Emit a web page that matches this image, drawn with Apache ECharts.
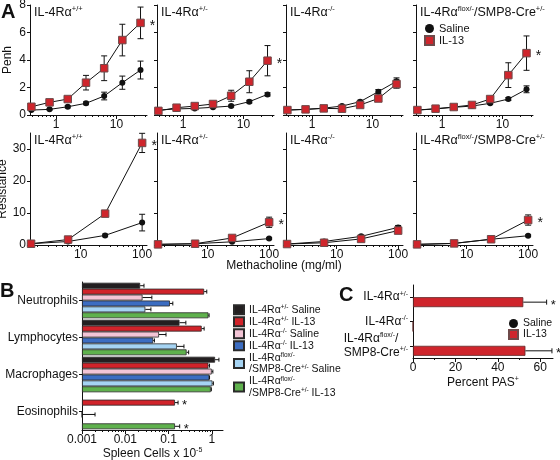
<!DOCTYPE html>
<html><head><meta charset="utf-8">
<script src="https://cdn.jsdelivr.net/npm/echarts@6/dist/echarts.min.js"></script>
<style>html,body{margin:0;padding:0;background:#fff}#c{width:560px;height:460px}</style>
</head><body><div id="c"></div>
<script>
// ---------------- DATA ----------------
const penhDoses = [0.39, 0.78, 1.56, 3.13, 6.25, 12.5, 25];
const resDoses = [1.56, 6.25, 25, 100];
const penhTickLabels = [1, 10];
const resTickLabels = [10, 100];

// Penh, one row per genotype panel (+/+, +/-, -/-, flox/SMP8-Cre)
const penhSaline = [
  [0.36, 0.41, 0.60, 0.85, 1.38, 2.35, 3.27],
  [0.36, 0.44, 0.48, 0.56, 0.65, 0.97, 1.50],
  [0.36, 0.41, 0.50, 0.65, 0.97, 1.70, 2.45],
  [0.36, 0.44, 0.56, 0.65, 0.85, 1.16, 1.87]
];
const penhSalineErr = [
  [0.05, 0.05, 0.08, 0.10, 0.28, 0.48, 0.65],
  [0.05, 0.05, 0.05, 0.05, 0.07, 0.10, 0.12],
  [0.05, 0.05, 0.05, 0.06, 0.10, 0.15, 0.25],
  [0.05, 0.05, 0.05, 0.05, 0.07, 0.10, 0.25]
];
const penhIL13 = [
  [0.60, 0.92, 1.16, 2.35, 3.40, 5.45, 6.70],
  [0.30, 0.53, 0.65, 0.80, 1.40, 2.42, 3.95],
  [0.36, 0.41, 0.48, 0.46, 0.73, 1.20, 2.25],
  [0.36, 0.46, 0.58, 0.73, 1.16, 2.90, 4.50]
];
const penhIL13Err = [
  [0.15, 0.12, 0.10, 0.53, 0.90, 1.15, 1.15],
  [0.05, 0.08, 0.10, 0.15, 0.40, 0.80, 1.10],
  [0.05, 0.05, 0.05, 0.06, 0.10, 0.15, 0.30],
  [0.05, 0.05, 0.05, 0.08, 0.12, 0.90, 1.25]
];
const penhSig = [true, true, false, true];

const resSaline = [
  [0.4, 1.1, 3.0, 7.0],
  [0.2, 0.4, 1.0, 2.0],
  [0.3, 1.1, 2.7, 5.5],
  [0.2, 0.5, 1.8, 2.9]
];
const resSalineErr = [
  [0.1, 0.2, 0.4, 2.6],
  [0.1, 0.1, 0.2, 0.3],
  [0.1, 0.2, 0.4, 0.6],
  [0.1, 0.1, 0.2, 0.3]
];
const resIL13 = [
  [0.4, 1.7, 9.8, 31.9],
  [0.2, 0.4, 2.2, 7.1],
  [0.3, 0.7, 1.9, 4.5],
  [0.2, 0.5, 1.8, 7.8]
];
const resIL13Err = [
  [0.2, 0.3, 0.6, 3.0],
  [0.1, 0.1, 0.5, 1.6],
  [0.1, 0.2, 0.3, 0.5],
  [0.1, 0.1, 0.3, 1.6]
];
const resSig = [true, true, false, true];

// Panel B
const cellTypes = ['Neutrophils', 'Lymphocytes', 'Macrophages', 'Eosinophils'];
const groupNames = ['+/- Saline', '+/- IL-13', '-/- Saline', '-/- IL-13', 'flox Saline', 'flox IL-13'];
const cellMeans = [
  [0.022, 0.178, 1.18, null],
  [0.66, 0.58, 0.83, 0.14],
  [0.025, 0.060, 0.99, null],
  [0.107, 0.044, 0.87, 0.001],
  [0.029, 0.155, 1.03, null],
  [0.83, 0.26, 0.94, 0.14]
];
const cellUpper = [
  [0.027, 0.25, 1.45, null],
  [0.76, 0.66, 0.88, 0.165],
  [0.041, 0.087, 1.05, null],
  [0.125, 0.047, 0.88, 0.002],
  [0.039, 0.226, 1.08, null],
  [0.86, 0.29, 0.97, 0.18]
];
const cellSig = [
  [false, false, false, false],
  [false, false, false, true],
  [false, false, false, false],
  [false, false, false, false],
  [false, false, false, false],
  [false, false, false, true]
];
const cellTicks = [0.001, 0.01, 0.1, 1];

// Panel C
const pasGenotypes = ['+/-', '-/-', 'flox'];
const pasSaline = [0, 0, 0];
const pasIL13 = [52, 0, 53];
const pasIL13Err = [11, 0, 12.5];
const pasSig = [true, false, true];
const pasTicks = [0, 20, 40, 60];

// ---------------- STYLE ----------------
const FONT = '"Liberation Sans", Arial, Helvetica, sans-serif';
const INK = '#111';
const RED = '#cf252c';
const groupColors = ['#231f20', '#d1232a', '#f3c5d6', '#3c6dc1', '#a6d4f3', '#5fb14d'];
const rich = (fs, sfs) => ({
  n: {fontSize: fs, lineHeight: fs + 2, fontFamily: FONT, color: INK, align: 'left'},
  s: {fontSize: sfs, lineHeight: sfs + 1, fontFamily: FONT, color: INK, verticalAlign: 'top', align: 'left'}
});
const titleText = ['{n|IL-4Rα}{s|+/+}', '{n|IL-4Rα}{s|+/-}', '{n|IL-4Rα}{s|-/-}', '{n|IL-4Rα}{s|flox/-}{n|/SMP8-Cre}{s|+/-}'];
const groupLegend = {
  '+/- Saline': '{n|IL-4Rα}{s|+/-}{n| Saline}',
  '+/- IL-13': '{n|IL-4Rα}{s|+/-}{n| IL-13}',
  '-/- Saline': '{n|IL-4Rα}{s|-/-}{n| Saline}',
  '-/- IL-13': '{n|IL-4Rα}{s|-/-}{n| IL-13}',
  'flox Saline': '{n|IL-4Rα}{s|flox/-}\n{n|/SMP8-Cre}{s|+/-}{n| Saline}',
  'flox IL-13': '{n|IL-4Rα}{s|flox/-}\n{n|/SMP8-Cre}{s|+/-}{n| IL-13}'
};
const pasLabel = {
  '+/-': '{n|IL-4Rα}{s|+/-}',
  '-/-': '{n|IL-4Rα}{s|-/-}',
  'flox': '{n|IL-4Rα}{s|flox/-}{n|/}\n{n|SMP8-Cre}{s|+/-}'
};

const panelLeft = [30, 157, 286, 416];
const panelWidth = 117;

const grids = [], xAxes = [], yAxes = [], series = [], titles = [];
const line = (x1, y1, x2, y2) => ({type: 'line', shape: {x1, y1, x2, y2}, style: {stroke: INK, lineWidth: 1}});

function addLogX(gridIndex, min, max, major, minor, extra) {
  xAxes.push(Object.assign({
    type: 'log', logBase: 10, gridIndex, min, max, position: 'bottom',
    axisLine: {show: true, lineStyle: {color: INK, width: 1}},
    axisTick: {show: true, customValues: major, length: 4, lineStyle: {color: INK, width: 1}},
    axisLabel: {show: true, customValues: major, fontSize: 12, color: INK, fontFamily: FONT, margin: 4, formatter: v => String(v)},
    splitLine: {show: false}, minorTick: {show: false}
  }, extra || {}));
  const idx = xAxes.length - 1;
  xAxes.push({
    type: 'log', logBase: 10, gridIndex, min, max, position: 'bottom',
    axisLine: {show: false},
    axisTick: {show: true, customValues: minor, length: 2, lineStyle: {color: INK, width: 1}},
    axisLabel: {show: false}, splitLine: {show: false}
  });
  return idx;
}

function errSeries(xi, yi, xs, ys, es, z) {
  return {
    type: 'custom', xAxisIndex: xi, yAxisIndex: yi, z, silent: true,
    data: xs.map((x, k) => [x, Math.max(0, ys[k] - es[k]), ys[k] + es[k]]),
    encode: {x: 0, y: [1, 2]},
    renderItem: (params, api) => {
      const x = api.value(0);
      const lo = api.coord([x, api.value(1)]);
      const hi = api.coord([x, api.value(2)]);
      const w = 3;
      return {type: 'group', children: [
        line(lo[0], lo[1], hi[0], hi[1]),
        line(lo[0] - w, lo[1], lo[0] + w, lo[1]),
        line(hi[0] - w, hi[1], hi[0] + w, hi[1])
      ]};
    }
  };
}

function addPanelA(row, i) {
  const gi = row * 4 + i;
  const top = row === 0 ? 5 : 133;
  const height = row === 0 ? 110 : 112;
  grids.push({left: panelLeft[i], top, width: panelWidth, height, outerBoundsMode: 'none'});
  const doses = row === 0 ? penhDoses : resDoses;
  const xi = row === 0
    ? addLogX(gi, 0.37, 32, penhTickLabels, [0.4, 0.5, 0.6, 0.7, 0.8, 0.9, 2, 3, 4, 5, 6, 7, 8, 9, 20, 30])
    : addLogX(gi, 1.5, 120, resTickLabels, [2, 3, 4, 5, 6, 7, 8, 9, 20, 30, 40, 50, 60, 70, 80, 90]);
  const yAxis = {
    type: 'value', gridIndex: gi, min: 0, position: 'left',
    axisLine: {show: true, lineStyle: {color: INK, width: 1}},
    axisTick: {show: true, length: 3, lineStyle: {color: INK}},
    axisLabel: {show: i === 0, fontSize: 12, color: INK, fontFamily: FONT, margin: 4},
    splitLine: {show: false},
    name: i === 0 ? (row === 0 ? 'Penh' : 'Resistance') : '',
    nameLocation: 'middle', nameRotate: 90, nameGap: 16,
    nameTextStyle: {fontSize: 12, color: INK, fontFamily: FONT}
  };
  if (row === 0) { yAxis.max = 8; yAxis.interval = 2; }
  else { yAxis.max = 35; yAxis.axisLabel.customValues = [0, 10, 20, 30]; yAxis.axisTick.customValues = [0, 10, 20, 30]; }
  yAxes.push(yAxis);
  const yi = yAxes.length - 1;
  const sal = row === 0 ? penhSaline[i] : resSaline[i];
  const salE = row === 0 ? penhSalineErr[i] : resSalineErr[i];
  const il = row === 0 ? penhIL13[i] : resIL13[i];
  const ilE = row === 0 ? penhIL13Err[i] : resIL13Err[i];
  const sig = row === 0 ? penhSig[i] : resSig[i];
  const pairs = arr => doses.map((d, k) => [d, arr[k]]);
  series.push({type: 'line', name: '_l', xAxisIndex: xi, yAxisIndex: yi, data: pairs(sal), showSymbol: false, symbol: 'none', lineStyle: {color: INK, width: 1}, z: 2, silent: true});
  series.push({type: 'line', name: '_l', xAxisIndex: xi, yAxisIndex: yi, data: pairs(il), showSymbol: false, symbol: 'none', lineStyle: {color: INK, width: 1}, z: 2, silent: true});
  series.push(errSeries(xi, yi, doses, sal, salE, 3));
  series.push(errSeries(xi, yi, doses, il, ilE, 3));
  series.push({type: 'scatter', name: 'Saline', xAxisIndex: xi, yAxisIndex: yi, data: pairs(sal), symbol: 'circle', symbolSize: 6, itemStyle: {color: INK, opacity: 1}, z: 4});
  const ilData = pairs(il).map((p, k) => (sig && k === doses.length - 1)
    ? {value: p, label: {show: true, formatter: '*', position: 'right', distance: 5, offset: [0, 3], fontSize: 14, color: INK, fontFamily: FONT}}
    : p);
  series.push({type: 'scatter', name: 'IL-13', xAxisIndex: xi, yAxisIndex: yi, data: ilData, symbol: 'rect', symbolSize: 7.5,
    itemStyle: {color: RED, borderColor: '#6e4a4a', borderWidth: 1, opacity: 1}, z: 5});
  titles.push({text: titleText[i], left: panelLeft[i] + 4, top: row === 0 ? 5 : 133, padding: 0,
    textStyle: {fontSize: 12.5, fontWeight: 'normal', color: INK, fontFamily: FONT, rich: rich(12.5, 7.5)}});
}
for (let r = 0; r < 2; r++) for (let i = 0; i < 4; i++) addPanelA(r, i);

// ---------- Panel B ----------
const gB = grids.length;
grids.push({left: 82, top: 282, width: 141, height: 148, outerBoundsMode: 'none'});
const xB = addLogX(gB, 0.001, 1.8, cellTicks,
  [0.002, 0.003, 0.004, 0.005, 0.006, 0.007, 0.008, 0.009, 0.02, 0.03, 0.04, 0.05, 0.06, 0.07, 0.08, 0.09, 0.2, 0.3, 0.4, 0.5, 0.6, 0.7, 0.8, 0.9],
  {startValue: 0.001, name: '{n|Spleen Cells x 10}{s|-5}', nameLocation: 'middle', nameGap: 15,
   nameTextStyle: {fontSize: 12, color: INK, fontFamily: FONT, rich: rich(12, 7)}});
yAxes.push({type: 'category', gridIndex: gB, data: cellTypes, inverse: true, position: 'left',
  axisLine: {show: true, lineStyle: {color: INK}},
  axisTick: {show: true, alignWithLabel: true, length: 3, lineStyle: {color: INK}},
  axisLabel: {fontSize: 12, color: INK, fontFamily: FONT, margin: 4}, splitLine: {show: false}});
const yB = yAxes.length - 1;
const BGAP = 0.04;
groupNames.forEach((g, gi) => {
  series.push({type: 'bar', name: g, xAxisIndex: xB, yAxisIndex: yB,
    data: cellMeans[gi].map(v => v == null ? '-' : v),
    barCategoryGap: (BGAP * 100) + '%', barGap: 0,
    itemStyle: {color: groupColors[gi], borderColor: '#2a2a2a', borderWidth: 0.8}, z: 2});
});
const bErr = [];
groupNames.forEach((g, gi) => cellTypes.forEach((c, ci) => {
  if (cellMeans[gi][ci] != null) bErr.push([cellMeans[gi][ci], cellUpper[gi][ci], ci, gi, cellSig[gi][ci] ? 1 : 0]);
}));
series.push({type: 'custom', xAxisIndex: xB, yAxisIndex: yB, z: 3, silent: true, data: bErr,
  encode: {x: [0, 1], y: 2},
  renderItem: (params, api) => {
    const v = api.value(0), h = api.value(1), ci = api.value(2), gi = api.value(3), sg = api.value(4);
    const band = api.size([0, 1], [1, ci])[1];
    const inner = band * (1 - BGAP);
    const bw = inner / groupNames.length;
    const y = api.coord([1, ci])[1] - inner / 2 + bw * (gi + 0.5);
    const x0 = api.coord([v, ci])[0], x1 = api.coord([h, ci])[0];
    const ch = [line(x0, y, x1, y), line(x1, y - 2, x1, y + 2)];
    if (sg) ch.push({type: 'text', style: {text: '*', x: x1 + 4, y: y + 3, fontSize: 13, fill: INK, fontFamily: FONT, verticalAlign: 'middle'}});
    return {type: 'group', children: ch};
  }});

// ---------- Panel C ----------
const gC = grids.length;
grids.push({left: 413, top: 285, width: 140, height: 73, outerBoundsMode: 'none'});
xAxes.push({type: 'value', gridIndex: gC, min: 0, max: 66, position: 'bottom',
  axisLine: {show: true, lineStyle: {color: INK}},
  axisTick: {show: true, customValues: pasTicks, length: 4, lineStyle: {color: INK}},
  axisLabel: {customValues: pasTicks, fontSize: 12, color: INK, fontFamily: FONT, margin: 4},
  splitLine: {show: false},
  name: '{n|Percent PAS}{s|+}', nameLocation: 'middle', nameGap: 18,
  nameTextStyle: {fontSize: 12, color: INK, fontFamily: FONT, rich: rich(12, 7)}});
const xC = xAxes.length - 1;
xAxes.push({type: 'value', gridIndex: gC, min: 0, max: 66, position: 'bottom', axisLine: {show: false},
  axisTick: {show: true, customValues: [10, 30, 50], length: 2, lineStyle: {color: INK}},
  axisLabel: {show: false}, splitLine: {show: false}});
yAxes.push({type: 'category', gridIndex: gC, data: pasGenotypes, inverse: true, position: 'left',
  axisLine: {show: true, lineStyle: {color: INK}},
  axisTick: {show: true, alignWithLabel: true, length: 3, lineStyle: {color: INK}},
  axisLabel: {margin: 5, formatter: v => pasLabel[v], rich: rich(12, 7)}, splitLine: {show: false}});
const yC = yAxes.length - 1;
const CGAP = 0.18;
series.push({type: 'bar', name: 'Saline', xAxisIndex: xC, yAxisIndex: yC, data: pasSaline,
  barCategoryGap: (CGAP * 100) + '%', barGap: 0, itemStyle: {color: INK, borderWidth: 0}, z: 2});
series.push({type: 'bar', name: 'IL-13', xAxisIndex: xC, yAxisIndex: yC, data: pasIL13,
  barCategoryGap: (CGAP * 100) + '%', barGap: 0, itemStyle: {color: RED, borderColor: '#5e2a2a', borderWidth: 0.8}, z: 2});
series.push({type: 'custom', xAxisIndex: xC, yAxisIndex: yC, z: 3, silent: true,
  data: pasIL13.map((v, k) => [v, v + pasIL13Err[k], k, pasSig[k] ? 1 : 0]),
  encode: {x: [0, 1], y: 2},
  renderItem: (params, api) => {
    const v = api.value(0), h = api.value(1), ci = api.value(2), sg = api.value(3);
    if (h <= v) return null;
    const band = api.size([0, 1], [0, ci])[1];
    const inner = band * (1 - CGAP);
    const bw = inner / 2;
    const y = api.coord([0, ci])[1] - inner / 2 + bw * 1.5;
    const x0 = api.coord([v, ci])[0], x1 = api.coord([h, ci])[0];
    const ch = [line(x0, y, x1, y), line(x1, y - 2.5, x1, y + 2.5)];
    if (sg) ch.push({type: 'text', style: {text: '*', x: x1 + 4, y: y + 3, fontSize: 13, fill: INK, fontFamily: FONT, verticalAlign: 'middle'}});
    return {type: 'group', children: ch};
  }});

// ---------- Legends ----------
const legends = [
  {data: [{name: 'Saline', icon: 'circle'}, {name: 'IL-13', icon: 'rect'}], left: 424, top: 23, orient: 'vertical',
   itemWidth: 9, itemHeight: 9, itemGap: 1, selectedMode: false, padding: 0,
   textStyle: {fontSize: 11, lineHeight: 11, color: INK, fontFamily: FONT}},
  {data: groupNames.map(n => ({name: n, icon: 'rect'})), left: 233, top: 304, orient: 'vertical',
   itemWidth: 10, itemHeight: 9, itemGap: 0.5, selectedMode: false, padding: 0,
   formatter: n => groupLegend[n],
   textStyle: {fontSize: 10.5, lineHeight: 11.5, color: INK, fontFamily: FONT, rich: {
     n: {fontSize: 10.5, lineHeight: 11.5, fontFamily: FONT, color: INK},
     s: {fontSize: 6.5, lineHeight: 7, fontFamily: FONT, color: INK, verticalAlign: 'top'}}}},
  {data: [{name: 'Saline', icon: 'circle'}, {name: 'IL-13', icon: 'rect'}], left: 508, top: 318, orient: 'vertical',
   itemWidth: 9, itemHeight: 9, itemGap: 0, selectedMode: false, padding: 0,
   textStyle: {fontSize: 10.5, lineHeight: 10.5, color: INK, fontFamily: FONT}}
];

const graphics = [
  {type: 'text', left: 1, top: 2, style: {text: 'A', font: 'bold 20px ' + FONT, fill: INK}},
  {type: 'text', left: 0, top: 281, style: {text: 'B', font: 'bold 20px ' + FONT, fill: INK}},
  {type: 'text', left: 339, top: 285, style: {text: 'C', font: 'bold 20px ' + FONT, fill: INK}},
  {type: 'text', x: 284, y: 266, style: {text: 'Methacholine (mg/ml)', font: '12px ' + FONT, fill: INK, align: 'center', verticalAlign: 'middle'}}
];

const chart = echarts.init(document.getElementById('c'), null, {renderer: 'canvas'});
chart.setOption({
  animation: false,
  backgroundColor: '#fff',
  textStyle: {fontFamily: FONT},
  grid: grids, xAxis: xAxes, yAxis: yAxes, series, title: titles, legend: legends, graphic: graphics,
  tooltip: {show: false}
});
</script></body></html>
